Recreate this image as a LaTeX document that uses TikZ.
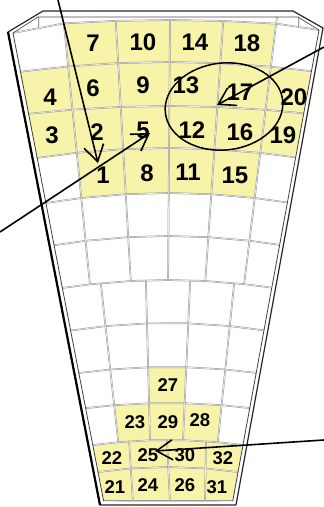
\documentclass[tikz,border=0pt]{standalone}
\usepackage{fontspec}
\setmainfont{Liberation Sans}
\usetikzlibrary{arrows.meta}
\definecolor{cellyellow}{HTML}{F7F4AA}
\definecolor{gridgray}{HTML}{9A9A9A}
\newcommand\rsgpt[7]{%
  \pgfmathsetmacro\rsgs{(#4-#2)/((#5)-(#3))}%
  \pgfmathsetmacro\rsgx{#2+\rsgs*((#6)-(#3))}%
  \pgfmathsetmacro\rsgt{(\rsgx-168)/150}%
  \pgfmathsetmacro\rsgy{#6+#7*\rsgt*\rsgt}%
  \pgfmathsetmacro\rsgx{#2+\rsgs*(\rsgy-(#3))}%
  \pgfmathsetmacro\rsgt{(\rsgx-168)/150}%
  \pgfmathsetmacro\rsgy{#6+#7*\rsgt*\rsgt}%
  \coordinate (#1) at (\rsgx,\rsgy);}
\tikzset{
  gridln/.style={draw=gridgray, line width=0.5pt, double=white!85!gray, double distance=0.7pt},
  lab/.style={font=\fontsize{24}{24}\selectfont\bfseries, inner sep=0pt},
  labs/.style={font=\fontsize{18.5}{18.5}\selectfont\bfseries, inner sep=0pt},
  pointer/.style={line width=1.6pt, -{Straight Barb[length=16pt,width=20pt]}},
}
\begin{document}
\begin{tikzpicture}[x=1pt,y=-1pt]
\useasboundingbox (0,0) rectangle (324,507);
% ---- grid points
\foreach \j/\cxt/\cyt/\cxb/\cyb in {0/12/32/104/503,1/64/25/90/285,2/116/25/131/285,3/170/25/168/285,4/223/25/205/285,5/276/25/244/285,6/319/28/232/505}{
  \foreach \i/\rc/\rd in {0/20/7,1/62/10,2/106/9,3/148/13,4/193/15,5/236/16,6/280/16}{
    \rsgpt{A-\i-\j}{\cxt}{\cyt}{\cxb}{\cyb}{\rc}{\rd}
  }
}
\foreach \j/\cxt/\cyt/\cxb/\cyb in {0/12/32/104/503,1/101/285/118/440,2/146/285/150/440,3/190/285/183/440,4/234/285/218/440,5/319/28/232/505}{
  \foreach \i/\rc/\rd in {6/280/16,7/323/18,8/367/17,9/403/17,10/440/20}{
    \rsgpt{B-\i-\j}{\cxt}{\cyt}{\cxb}{\cyb}{\rc}{\rd}
  }
}
\foreach \j/\cxt/\cyt/\cxb/\cyb in {0/12/32/104/503,1/129/440/133/503,2/167/440/170/503,3/206/440/205/503,4/319/28/232/505}{
  \foreach \i/\rc/\rd in {10/440/20,11/467/23,12/501/0}{
    \rsgpt{C-\i-\j}{\cxt}{\cyt}{\cxb}{\cyb}{\rc}{\rd}
  }
}
\coordinate (A-0-0) at (13,33);
\coordinate (A-0-6) at (319,30);
% ---- yellow cells
\foreach \i/\j in {0/1,0/2,0/3,0/4,1/0,1/1,1/2,1/3,1/4,1/5,2/0,2/1,2/2,2/3,2/4,2/5,3/1,3/2,3/3,3/4}{
  \pgfmathtruncatemacro\ii{\i+1}\pgfmathtruncatemacro\jj{\j+1}
  \fill[cellyellow] (A-\i-\j) -- (A-\i-\jj) -- (A-\ii-\jj) -- (A-\ii-\j) -- cycle;
}
\foreach \i/\j in {8/2,9/1,9/2,9/3}{
  \pgfmathtruncatemacro\ii{\i+1}\pgfmathtruncatemacro\jj{\j+1}
  \fill[cellyellow] (B-\i-\j) -- (B-\i-\jj) -- (B-\ii-\jj) -- (B-\ii-\j) -- cycle;
}
\foreach \i/\j in {10/0,10/1,10/2,10/3,11/0,11/1,11/2,11/3}{
  \pgfmathtruncatemacro\ii{\i+1}\pgfmathtruncatemacro\jj{\j+1}
  \fill[cellyellow] (C-\i-\j) -- (C-\i-\jj) -- (C-\ii-\jj) -- (C-\ii-\j) -- cycle;
}
% ---- grid lines
\foreach \i in {0,...,6}{
  \draw[gridln] (A-\i-0) -- (A-\i-1) -- (A-\i-2) -- (A-\i-3) -- (A-\i-4) -- (A-\i-5) -- (A-\i-6);
}
\foreach \i in {7,8,9,10}{
  \draw[gridln] (B-\i-0) -- (B-\i-1) -- (B-\i-2) -- (B-\i-3) -- (B-\i-4) -- (B-\i-5);
}
\foreach \i in {11,12}{
  \draw[gridln] (C-\i-0) -- (C-\i-1) -- (C-\i-2) -- (C-\i-3) -- (C-\i-4);
}
\foreach \j in {1,...,5}{ \draw[gridln] (A-0-\j) -- (A-6-\j); }
\foreach \j in {1,...,4}{ \draw[gridln] (B-6-\j) -- (B-10-\j); }
\foreach \j in {1,2,3}{ \draw[gridln] (C-10-\j) -- (C-12-\j); }
% top band
\coordinate (bi1) at (38,17);
\coordinate (bi2) at (298,17);
\draw[gridln] (39,17) -- (39,28);
\draw[gridln] (277,17) -- (A-0-5);
\draw[gridln] (299,17) -- (299,27);
\draw[gray!60!black, line width=0.7pt] (A-0-0) -- (bi1) -- (bi2) -- (A-0-6);
% ---- borders
\draw[gray!50!black, line width=0.8pt] (A-0-0) -- (C-12-0);
\draw[gray!50!black, line width=0.8pt] (A-0-6) -- (C-12-4);
\coordinate (o1) at (8,32);
\coordinate (o2) at (43,11);
\coordinate (o3) at (293,11);
\coordinate (o4) at (323,28);
\coordinate (o5) at (236,505);
\coordinate (o6) at (100,505);
\draw[gray!30!black, line width=1.2pt, line join=round] (o1) -- (o2) -- (o3) -- (o4) -- (o5) -- (o6) -- cycle;
\draw[black, line width=2.2pt] (o1) -- (o6);
% ---- labels
\node[lab] (n7) at (93,43) {7};
\node[lab] (n10) at (143,42) {10};
\node[lab] (n14) at (195,42) {14};
\node[lab] (n18) at (247,43) {18};
\node[lab] (n4) at (50,97) {4};
\node[lab] (n6) at (93,88) {6};
\node[lab] (n9) at (143,85) {9};
\node[lab] (n13) at (186,85) {13};
\node[lab] (n17) at (240,92) {17};
\node[lab] (n20) at (294,97) {20};
\node[lab] (n3) at (52,135) {3};
\node[lab] (n2) at (97,132) {2};
\node[lab] (n5) at (143,130) {5};
\node[lab] (n12) at (192,130) {12};
\node[lab] (n16) at (240,132) {16};
\node[lab] (n19) at (283,135) {19};
\node[lab] (n1) at (103,175) {1};
\node[lab] (n8) at (147,173) {8};
\node[lab] (n11) at (188,172) {11};
\node[lab] (n15) at (235,175) {15};
\node[labs] (n27) at (168,385) {27};
\node[labs] (n23) at (135,422) {23};
\node[labs] (n29) at (168,422) {29};
\node[labs] (n28) at (200,420) {28};
\node[labs] (n22) at (112,458) {22};
\node[labs] (n25) at (148,455) {25};
\node[labs] (n30) at (185,455) {30};
\node[labs] (n32) at (223,458) {32};
\node[labs] (n21) at (115,487) {21};
\node[labs] (n24) at (148,485) {24};
\node[labs] (n26) at (185,485) {26};
\node[labs] (n31) at (217,487) {31};
% ---- ellipse and arrows
\coordinate (ellc) at (224,106.5);
\draw[line width=1.5pt, rotate around={6:(ellc)}] (ellc) ellipse [x radius=59pt, y radius=43.5pt];
\coordinate (a1s) at (58,0);
\coordinate (a1e) at (98,163);
\coordinate (a2s) at (0,232);
\coordinate (a2e) at (150,133);
\coordinate (a3s) at (324,47);
\coordinate (a3e) at (217,105);
\coordinate (a4s) at (324,440);
\coordinate (a4e) at (155,451);
\draw[pointer] (a1s) -- (a1e);
\draw[pointer] (a2s) -- (a2e);
\draw[pointer] (a3s) -- (a3e);
\draw[pointer] (a4s) -- (a4e);
\end{tikzpicture}
\end{document}
